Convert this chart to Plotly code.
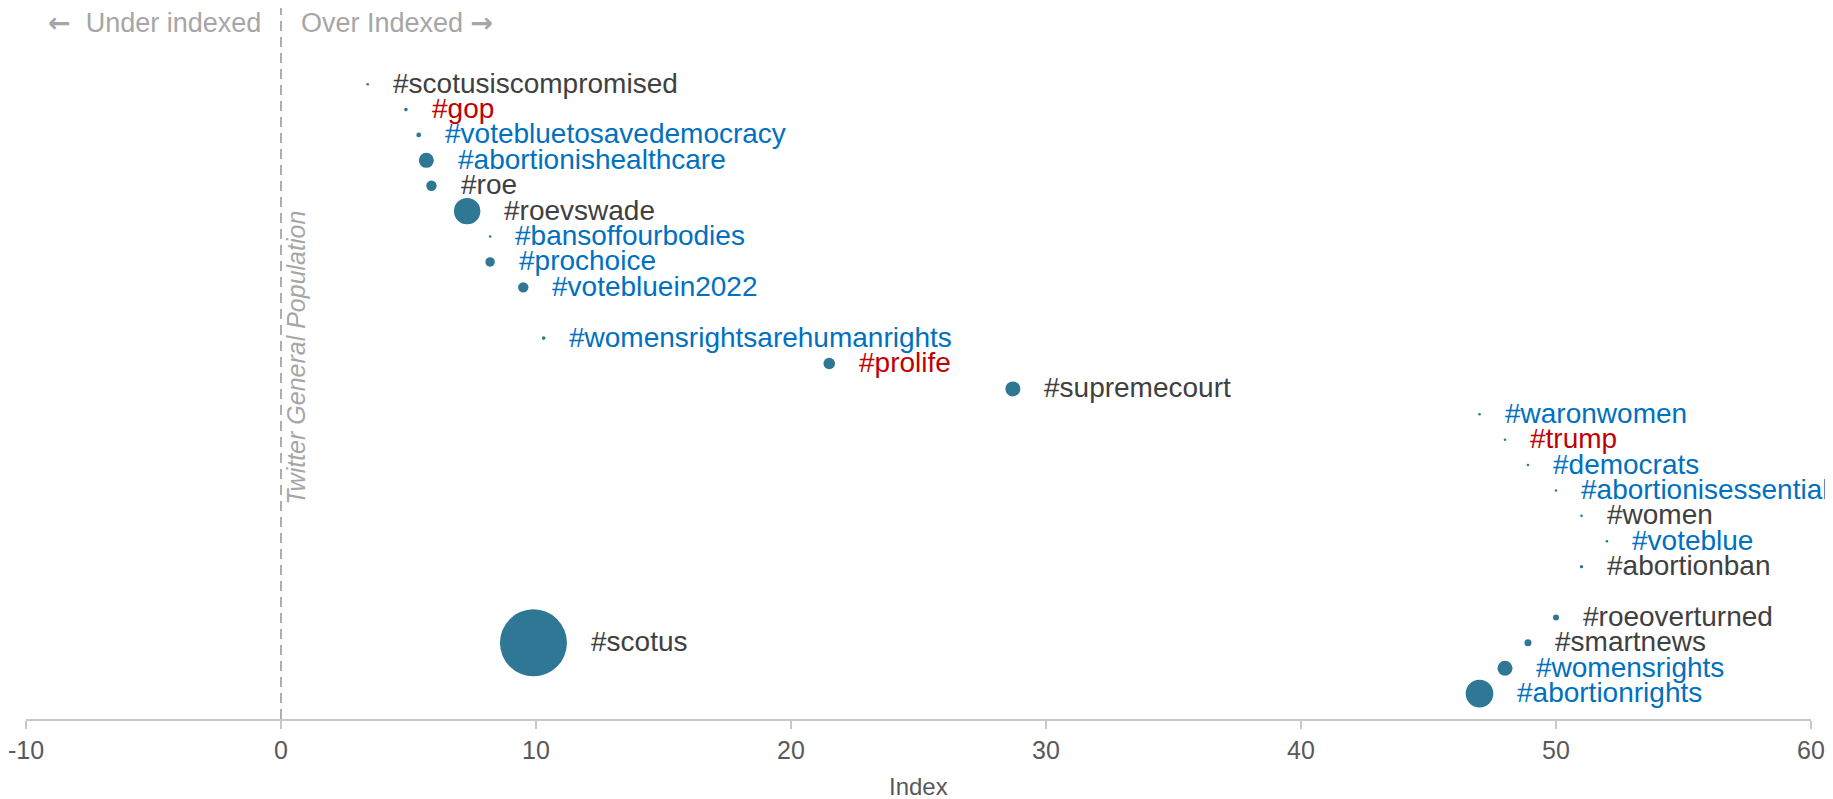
import numpy as np
import plotly.graph_objects as go

# ---- data ----
hashtags = ["#scotusiscompromised", "#gop", "#votebluetosavedemocracy", "#abortionishealthcare",
            "#roe", "#roevswade", "#bansoffourbodies", "#prochoice", "#votebluein2022",
            "#womensrightsarehumanrights", "#prolife", "#supremecourt", "#waronwomen", "#trump",
            "#democrats", "#abortionisessential", "#women", "#voteblue", "#abortionban",
            "#roeoverturned", "#smartnews", "#scotus", "#womensrights", "#abortionrights"]
index_values = [3.4, 4.9, 5.4, 5.7, 5.9, 7.3, 8.2, 8.2, 9.5,
                10.3, 21.5, 28.7, 47.0, 48.0,
                48.9, 50.0, 51.0, 52.0, 51.0,
                50.0, 48.9, 9.9, 48.0, 47.0]
rank_position = [25, 24, 23, 22, 21, 20, 19, 18, 17,
                 15, 14, 13, 12, 11,
                 10, 9, 8, 7, 6,
                 4, 3, 3, 2, 1]
volume = [0.1, 0.3, 0.5, 5.0, 2.4, 15.5, 0.12, 2.0, 2.4,
          0.3, 3.0, 5.0, 0.06, 0.1,
          0.12, 0.1, 0.12, 0.1, 0.25,
          0.8, 1.1, 100.0, 5.0, 17.0]
leaning = ["neutral", "right", "left", "left", "neutral", "neutral", "left", "left", "left",
           "left", "right", "neutral", "left", "right",
           "left", "left", "neutral", "left", "neutral",
           "neutral", "neutral", "neutral", "left", "left"]
x_ticks = [-10, 0, 10, 20, 30, 40, 50, 60]

# ---- styling ----
FONT = "Liberation Sans"
lean_colors = {"neutral": "#404040", "left": "#0070C0", "right": "#C00000"}
bubble_color = "#2E7795"
max_diam = 67.0
vol = np.array(volume, dtype=float)
diam = np.maximum(max_diam * np.sqrt(vol / vol.max()), 2.6)

fig = go.Figure()
fig.add_trace(go.Scatter(
    x=index_values, y=rank_position, mode="markers",
    marker=dict(size=diam, sizemode="diameter", color=bubble_color, line=dict(width=0), opacity=1),
    hoverinfo="text", text=hashtags, showlegend=False, cliponaxis=False,
))

annotations = []
for h, xv, yv, d, lean in zip(hashtags, index_values, rank_position, diam, leaning):
    annotations.append(dict(
        x=xv, y=yv, xref="x", yref="y", text=h, showarrow=False,
        xanchor="left", yanchor="middle", xshift=d / 2 + 22, yshift=1,
        font=dict(family=FONT, size=28, color=lean_colors[lean]),
    ))

gray = "#A6A6A6"
arrow_l = '<span style="font-family:DejaVu Sans;font-weight:bold">\u2190</span>'
arrow_r = '<span style="font-family:DejaVu Sans;font-weight:bold">\u2192</span>'
annotations += [
    dict(x=0, y=0.979, xref="x", yref="paper", text=arrow_l + "  Under indexed", showarrow=False,
         xanchor="right", yanchor="middle", xshift=-18, font=dict(family=FONT, size=27, color=gray)),
    dict(x=0, y=0.979, xref="x", yref="paper", text="Over Indexed " + arrow_r, showarrow=False,
         xanchor="left", yanchor="middle", xshift=18, font=dict(family=FONT, size=27, color=gray)),
    dict(x=0, y=0.508, xref="x", yref="paper", text="<i>Twitter General Population</i>", showarrow=False,
         textangle=-90, xanchor="center", yanchor="middle", xshift=15,
         font=dict(family=FONT, size=25, color=gray)),
    dict(x=0.5, y=0, xref="paper", yref="paper", text="Index", showarrow=False,
         xanchor="center", yanchor="middle", yshift=-67,
         font=dict(family=FONT, size=24, color="#595959")),
]

fig.add_shape(type="line", x0=0, x1=0, y0=0, y1=1, xref="x", yref="paper",
              line=dict(color=gray, width=1.8, dash="10px,6px"), layer="below")

fig.update_layout(
    width=1833, height=791,
    margin=dict(l=18, r=30, t=0, b=80),
    paper_bgcolor="white", plot_bgcolor="white",
    annotations=annotations,
    font=dict(family=FONT),
    xaxis=dict(range=[-10, 60], tickvals=x_ticks, ticktext=[str(t) for t in x_ticks],
               showgrid=False, zeroline=False, showline=True, linecolor="#C8C8C8", linewidth=2,
               ticks="outside", ticklen=8, tickcolor="#C8C8C8", tickwidth=1.5,
               ticklabeloverflow="allow", automargin=False,
               tickfont=dict(family=FONT, size=25, color="#595959")),
    yaxis=dict(range=[0, 28], visible=False, showgrid=False, zeroline=False),
)

fig.write_html("out.html")
